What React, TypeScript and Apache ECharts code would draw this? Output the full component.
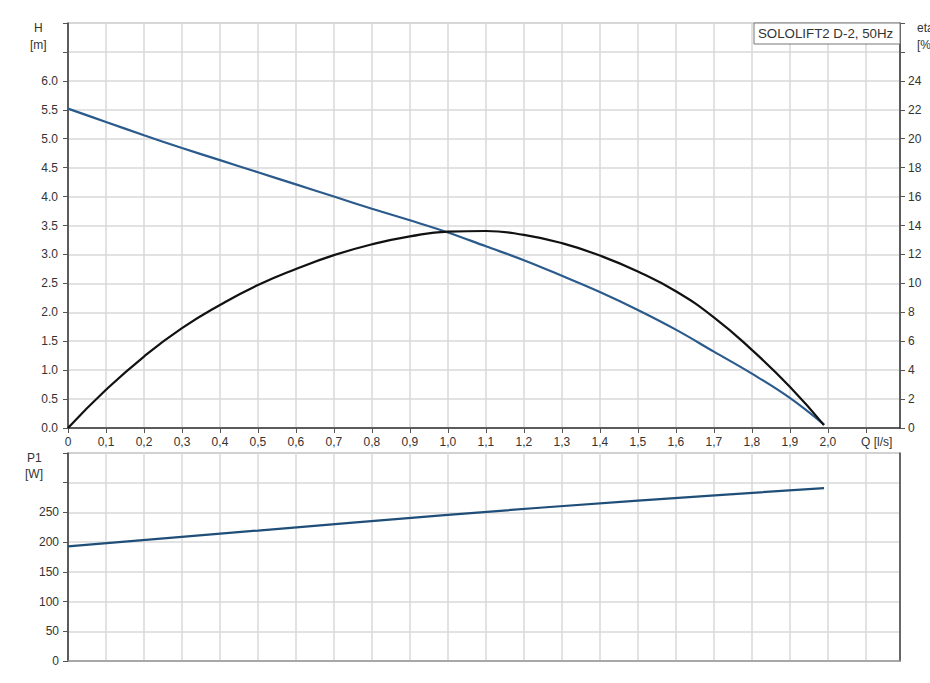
import React, { useEffect, useRef } from "react";
import * as echarts from "echarts";

const qPoints = [0, 0.1, 0.2, 0.3, 0.4, 0.5, 0.6, 0.7, 0.8, 0.9, 1.0, 1.1, 1.2, 1.3, 1.4, 1.5, 1.6, 1.7, 1.8, 1.9, 1.99];
const headValues = [5.52, 5.29, 5.06, 4.84, 4.63, 4.42, 4.21, 4.0, 3.79, 3.59, 3.38, 3.14, 2.9, 2.63, 2.35, 2.04, 1.7, 1.32, 0.94, 0.52, 0.06];
const etaValues = [0, 2.64, 4.94, 6.9, 8.5, 9.88, 10.99, 11.95, 12.7, 13.25, 13.58, 13.62, 13.35, 12.78, 11.92, 10.82, 9.45, 7.65, 5.4, 2.85, 0.2];
const powerQ = [0, 0.5, 1.0, 1.5, 1.99];
const powerValues = [193, 219.5, 246, 270, 291];

const titleText = "SOLOLIFT2 D-2, 50Hz";
const FONT = "'Liberation Sans', Arial, sans-serif";

export default function App() {
  const ref = useRef<HTMLDivElement>(null);
  useEffect(() => {
    if (!ref.current) return;
    const chart = echarts.init(ref.current, null, { renderer: "svg" });
    const gridLine = { show: true, lineStyle: { color: "#d9d9d9", width: 1.5 } };
    const labelStyle = { color: "#333", fontSize: 12, fontFamily: FONT };
    const pair = (xs: number[], ys: number[]) => xs.map((x, i) => [x, ys[i]]);
    const xLabel = (v: number) => {
      if (v > 2.05) return "";
      if (v === 0) return "0";
      return v.toFixed(1).replace(".", ",");
    };
    chart.setOption({
      animation: false,
      backgroundColor: "#fff",
      textStyle: { fontFamily: FONT },
      grid: [
        { left: 68, right: 30, top: 23, height: 405, show: true, borderColor: "#aaa", borderWidth: 1 },
        { left: 68, right: 30, top: 453, height: 208, show: true, borderColor: "#777", borderWidth: 1 },
      ],
      xAxis: [
        {
          type: "value", gridIndex: 0, min: 0, max: 2.19, interval: 0.1,
          axisLine: { show: true, onZero: false, lineStyle: { color: "#333", width: 1.5 } },
          axisTick: { show: true, length: 5, lineStyle: { color: "#555" } },
          axisLabel: { ...labelStyle, margin: 8, formatter: xLabel, showMaxLabel: false },
          splitLine: gridLine,
        },
        {
          type: "value", gridIndex: 1, min: 0, max: 2.19, interval: 0.1,
          axisLine: { show: true, onZero: false, lineStyle: { color: "#999", width: 1.5 } },
          axisTick: { show: false },
          axisLabel: { show: false },
          splitLine: gridLine,
        },
      ],
      yAxis: [
        {
          type: "value", gridIndex: 0, min: 0, max: 7, interval: 0.5,
          axisLine: { show: true, onZero: false, lineStyle: { color: "#333", width: 1.5 } },
          axisTick: { show: true, length: 5, lineStyle: { color: "#555" } },
          axisLabel: { ...labelStyle, margin: 10, formatter: (v: number) => (v > 6.01 ? "" : v.toFixed(1)) },
          splitLine: gridLine,
        },
        {
          type: "value", gridIndex: 0, position: "right", min: 0, max: 28, interval: 2,
          axisLine: { show: true, onZero: false, lineStyle: { color: "#333", width: 1.5 } },
          axisTick: { show: true, length: 5, lineStyle: { color: "#555" } },
          axisLabel: { ...labelStyle, margin: 8, formatter: (v: number) => (v > 24.01 ? "" : String(v)) },
          splitLine: { show: false },
        },
        {
          type: "value", gridIndex: 1, min: 0, max: 350, interval: 50,
          axisLine: { show: true, onZero: false, lineStyle: { color: "#333", width: 1.5 } },
          axisTick: { show: true, length: 5, lineStyle: { color: "#555" } },
          axisLabel: { ...labelStyle, margin: 9, formatter: (v: number) => (v > 251 ? "" : String(v)) },
          splitLine: gridLine,
        },
        {
          type: "value", gridIndex: 1, position: "right", min: 0, max: 350, interval: 50,
          axisLine: { show: true, onZero: false, lineStyle: { color: "#444", width: 1.5 } },
          axisTick: { show: false },
          axisLabel: { show: false },
          splitLine: { show: false },
        },
      ],
      series: [
        {
          type: "line", name: "H", xAxisIndex: 0, yAxisIndex: 0, data: pair(qPoints, headValues),
          smooth: 0.4, symbol: "none", lineStyle: { color: "#2b5b8c", width: 2.2 }, z: 3,
        },
        {
          type: "line", name: "eta", xAxisIndex: 0, yAxisIndex: 1, data: pair(qPoints, etaValues),
          smooth: 0.5, symbol: "none", lineStyle: { color: "#111", width: 2.2 }, z: 4,
        },
        {
          type: "line", name: "P1", xAxisIndex: 1, yAxisIndex: 2, data: pair(powerQ, powerValues),
          smooth: 0.3, symbol: "none", lineStyle: { color: "#1f4e79", width: 2.2 }, z: 3,
        },
      ],
      graphic: [
        { type: "text", left: 34, top: 22, style: { text: "H", fill: "#333", font: `12px ${FONT}` } },
        { type: "text", left: 30, top: 39, style: { text: "[m]", fill: "#333", font: `12px ${FONT}` } },
        { type: "text", left: 917, top: 22, style: { text: "eta", fill: "#333", font: `12px ${FONT}` } },
        { type: "text", left: 917, top: 39, style: { text: "[%]", fill: "#333", font: `12px ${FONT}` } },
        { type: "text", left: 27, top: 452, style: { text: "P1", fill: "#333", font: `12px ${FONT}` } },
        { type: "text", left: 25, top: 468, style: { text: "[W]", fill: "#333", font: `12px ${FONT}` } },
        { type: "text", left: 861, top: 436, style: { text: "Q [l/s]", fill: "#333", font: `12px ${FONT}` } },
        {
          type: "rect", shape: { x: 754, y: 23, width: 146, height: 21 },
          style: { fill: "#fff", stroke: "#777", lineWidth: 1 }, z: 10,
        },
        {
          type: "text", x: 758, y: 33.5, z: 11,
          style: { text: titleText, fill: "#333", font: `13.3px ${FONT}`, verticalAlign: "middle" },
        },
      ],
    });
    return () => chart.dispose();
  }, []);
  return (
    <div
      ref={ref}
      style={{ position: "absolute", left: 0, top: 0, width: 930, height: 683, background: "#fff" }}
    />
  );
}
